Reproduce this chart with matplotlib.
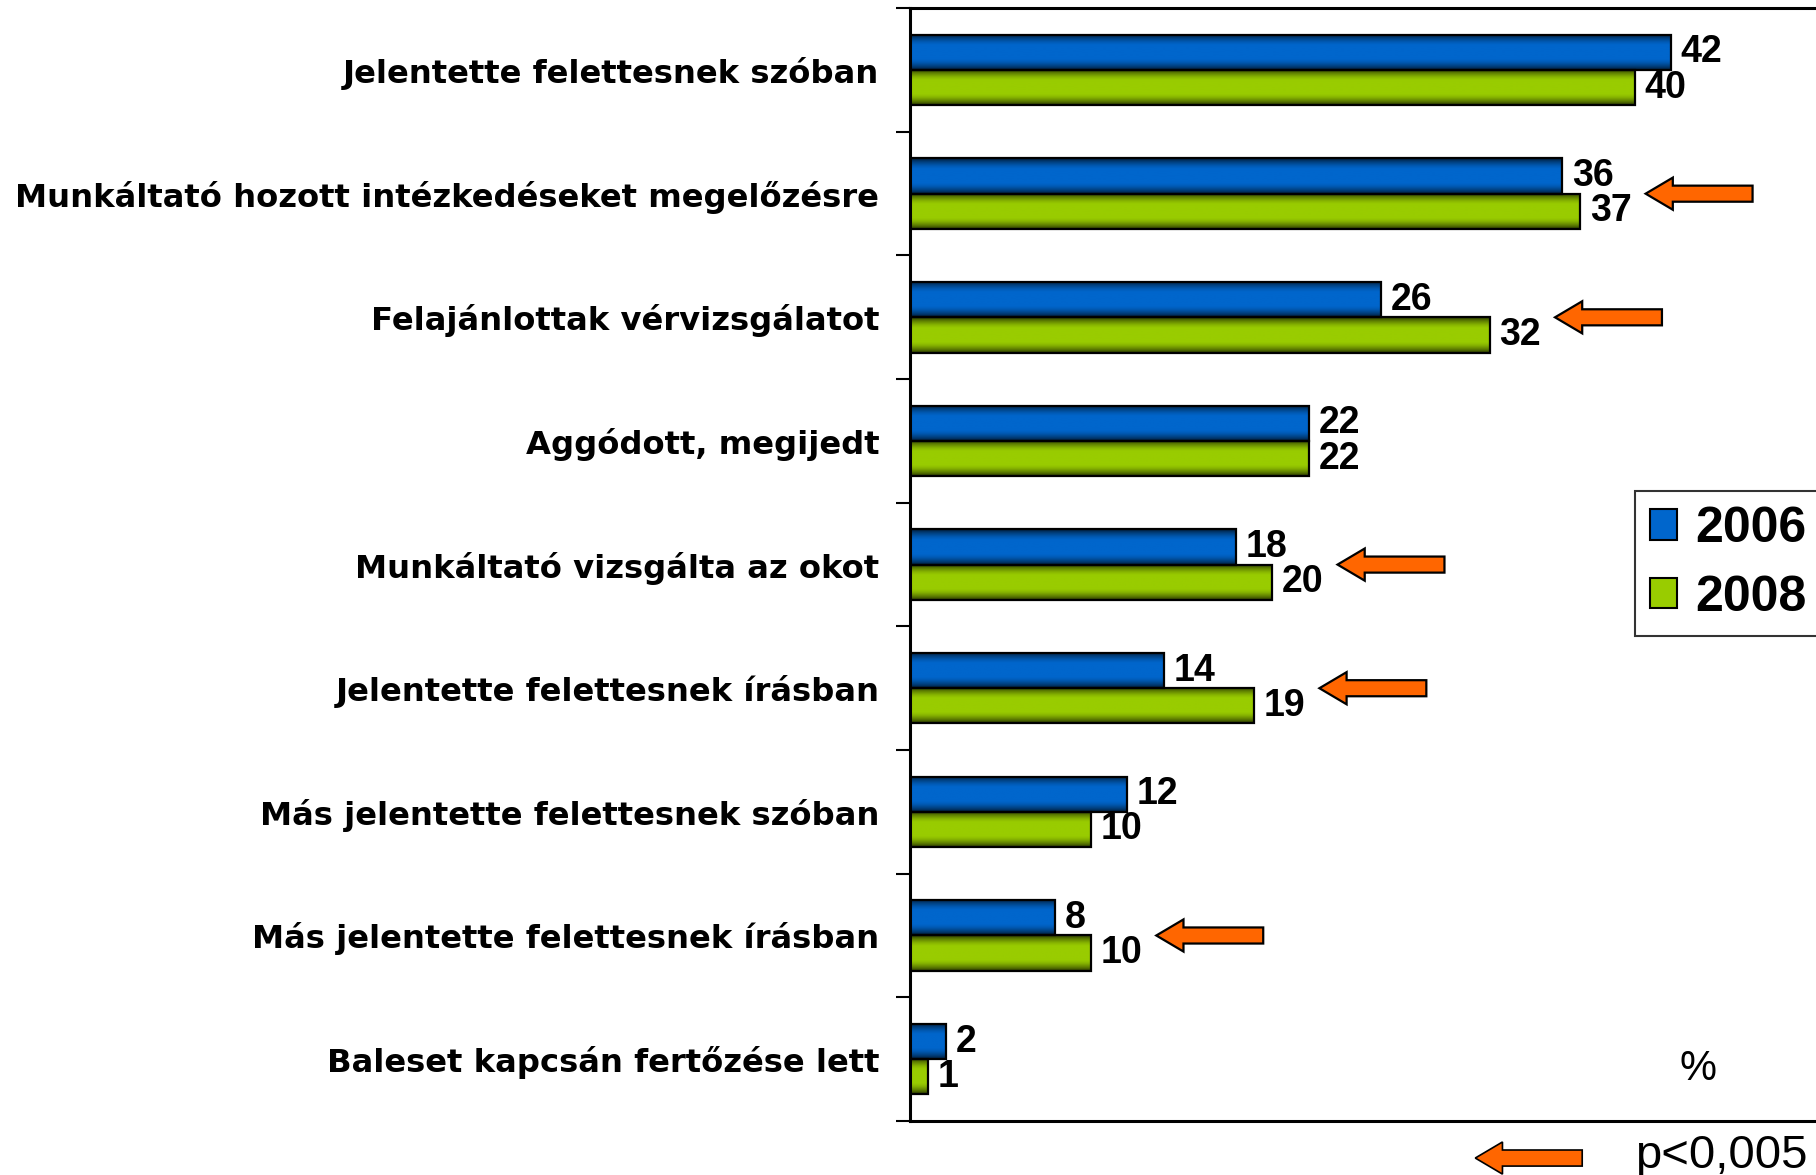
import matplotlib
matplotlib.use("Agg")
import matplotlib.pyplot as plt
import numpy as np
from matplotlib.patches import FancyArrow, Patch

plt.rcParams['font.family'] = ['Liberation Sans', 'DejaVu Sans']

# data (%)
categories = [
    "Jelentette felettesnek szóban",
    "Munkáltató hozott intézkedéseket megelőzésre",
    "Felajánlottak vérvizsgálatot",
    "Aggódott, megijedt",
    "Munkáltató vizsgálta az okot",
    "Jelentette felettesnek írásban",
    "Más jelentette felettesnek szóban",
    "Más jelentette felettesnek írásban",
    "Baleset kapcsán fertőzése lett",
]
values_2006 = [42, 36, 26, 22, 18, 14, 12, 8, 2]
values_2008 = [40, 37, 32, 22, 20, 19, 10, 10, 1]
significant = [False, True, True, False, True, True, False, True, False]
series_names = ["2006", "2008"]

BLUE = np.array([0x00, 0x66, 0xCC]) / 255
GREEN = np.array([0x99, 0xCC, 0x00]) / 255
ORANGE = "#FF6600"


def gradient(base, n=64):
    """vertical shading: dark at the top/bottom edge, full colour in the middle"""
    t = np.linspace(0, 1, n)
    d = np.minimum(t, 1 - t) / 0.32
    f = 1 - 0.72 * (1 - np.clip(d, 0, 1)) ** 1.6
    return (base[None, :] * f[:, None])[:, None, :]


def shade_bars(ax, bars, base):
    img = gradient(base)
    for b in bars:
        x0, y0 = b.get_x(), b.get_y()
        w, h = b.get_width(), b.get_height()
        im = ax.imshow(img, extent=[x0, x0 + w, y0 + h, y0], aspect='auto',
                       interpolation='bilinear', zorder=2)
        im.set_clip_path(b)
        b.set_facecolor('none')
        b.set_zorder(3)


fig = plt.figure(figsize=(18.16, 11.75), dpi=100)
ax = fig.add_axes([0.501, 0.046, 0.499, 0.947])

y = np.arange(len(categories))
h = 0.285
b1 = ax.barh(y - h / 2, values_2006, height=h, color=BLUE, edgecolor='black', linewidth=1.6)
b2 = ax.barh(y + h / 2, values_2008, height=h, color=GREEN, edgecolor='black', linewidth=1.6)
shade_bars(ax, b1, BLUE)
shade_bars(ax, b2, GREEN)

for bars in (b1, b2):
    ax.bar_label(bars, padding=7, fontsize=27, fontweight='bold', zorder=5)

# significance arrows
for i, sig in enumerate(significant):
    if sig:
        tip = max(values_2006[i], values_2008[i]) + 3.6
        ax.add_patch(FancyArrow(tip + 5.9, y[i], -5.9, 0, width=0.13, head_width=0.26,
                                head_length=1.5, length_includes_head=True,
                                fc=ORANGE, ec='black', lw=1.6, zorder=4))

ax.set_xlim(0, 50)
ax.set_ylim(8.5, -0.5)

ax.set_yticks(y)
ax.set_yticklabels(categories, fontsize=23.2, fontweight='bold', family='DejaVu Sans')
ax.tick_params(axis='y', which='major', length=0, pad=22)
ax.set_yticks(np.arange(-0.5, len(categories)), minor=True)
ax.tick_params(axis='y', which='minor', length=10, width=1.5, direction='out')
ax.set_xticks([])

ax.spines['right'].set_visible(False)
for s in ('left', 'top', 'bottom'):
    ax.spines[s].set_linewidth(2.2)

ax.text(43.5, 8.08, "%", fontsize=30, ha='center', va='center')

# key for the arrows, below the plot
ax.add_patch(FancyArrow(37.1, 8.8, -5.9, 0, width=0.13, head_width=0.26,
                        head_length=1.5, length_includes_head=True,
                        fc=ORANGE, ec='black', lw=1.2, clip_on=False))
ax.text(40.0, 8.78, "p<0,005", fontsize=34, ha='left', va='center')

handles = [Patch(facecolor=BLUE, edgecolor='black', lw=1.5),
           Patch(facecolor=GREEN, edgecolor='black', lw=1.5)]
leg = ax.legend(handles, series_names, loc='upper left', bbox_to_anchor=(0.800, 0.566),
                prop={'size': 36, 'weight': 'bold'}, frameon=True, fancybox=False,
                handlelength=0.55, handleheight=0.55, handletextpad=0.35,
                borderpad=0.3, labelspacing=0.45, borderaxespad=0)
leg.get_frame().set_edgecolor('black')
leg.get_frame().set_linewidth(1.5)

fig.savefig("out.png", dpi=100)
